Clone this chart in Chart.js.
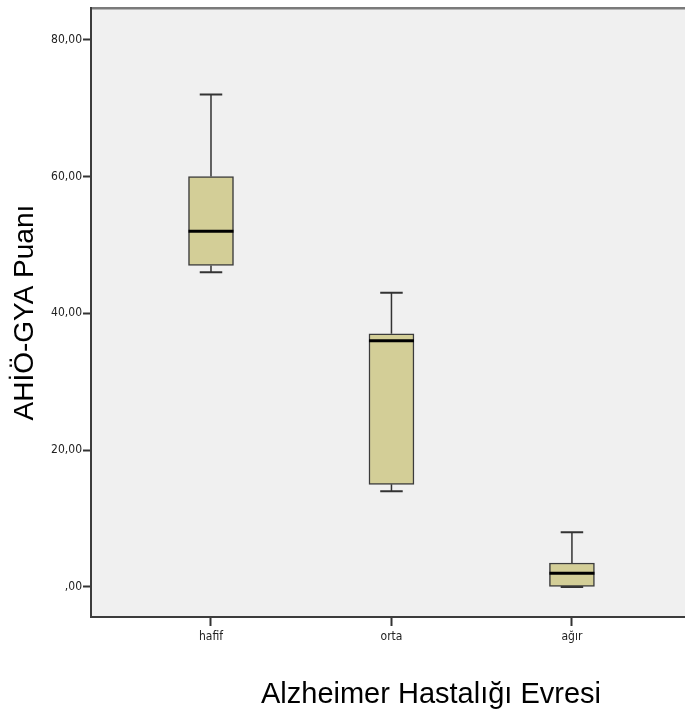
<!DOCTYPE html>
<html>
<head>
<meta charset="utf-8">
<script src="https://cdn.jsdelivr.net/npm/chart.js@4/dist/chart.umd.min.js"></script>
<style>
  html, body { margin: 0; padding: 0; overflow: hidden; background: #fff; }
  canvas { display: block; }
</style>
</head>
<body>
<canvas id="myChart" width="780" height="718"></canvas>
<script>
// Datos del diagrama de caja
const categories = ["hafif", "orta", "ağır"];
const xPositions = [1, 2, 3];
const whiskerMin = [46, 14, 0];
const q1 = [47, 15, 0];
const median = [52, 36, 2];
const q3 = [60, 37, 3.5];
const whiskerMax = [72, 43, 8];
const yTickValues = [0, 20, 40, 60, 80];
const yTickLabels = [",00", "20,00", "40,00", "60,00", "80,00"];

const tickFont = { family: "'DejaVu Sans Condensed', 'Liberation Sans', sans-serif", size: 12 };
const titleFont = { family: "'Liberation Sans', Arial, sans-serif", lineHeight: 1.2 };

// Fondo gris del area y borde superior
const plotBackground = {
  id: "plotBackground",
  beforeDraw(chart) {
    const { ctx, chartArea: a } = chart;
    ctx.save();
    ctx.fillStyle = "#f0f0f0";
    ctx.fillRect(a.left, a.top, a.right - a.left, a.bottom - a.top);
    ctx.strokeStyle = "#7a7a7a";
    ctx.lineWidth = 2.5;
    ctx.beginPath();
    ctx.moveTo(a.left, a.top);
    ctx.lineTo(a.right, a.top);
    ctx.stroke();
    ctx.restore();
  },
};

// Bigotes (antes de las cajas) y medianas (despues)
const boxParts = {
  id: "boxParts",
  beforeDatasetsDraw(chart) {
    const { ctx } = chart;
    const y = chart.scales.y;
    const bars = chart.getDatasetMeta(0).data;
    ctx.save();
    ctx.strokeStyle = "#333";
    bars.forEach((bar, i) => {
      const cap = bar.width / 4;
      const yMax = y.getPixelForValue(whiskerMax[i]);
      const yMin = y.getPixelForValue(whiskerMin[i]);
      ctx.lineWidth = 1.5;
      ctx.beginPath();
      ctx.moveTo(bar.x, yMax);
      ctx.lineTo(bar.x, y.getPixelForValue(q3[i]));
      ctx.moveTo(bar.x, yMin);
      ctx.lineTo(bar.x, y.getPixelForValue(q1[i]));
      ctx.stroke();
      ctx.lineWidth = 2;
      ctx.beginPath();
      ctx.moveTo(bar.x - cap, yMax);
      ctx.lineTo(bar.x + cap, yMax);
      ctx.moveTo(bar.x - cap, yMin);
      ctx.lineTo(bar.x + cap, yMin);
      ctx.stroke();
    });
    ctx.restore();
  },
  afterDatasetsDraw(chart) {
    const { ctx } = chart;
    const y = chart.scales.y;
    const bars = chart.getDatasetMeta(0).data;
    ctx.save();
    ctx.strokeStyle = "#000";
    ctx.lineWidth = 3;
    bars.forEach((bar, i) => {
      const ym = y.getPixelForValue(median[i]);
      ctx.beginPath();
      ctx.moveTo(bar.x - bar.width / 2, ym);
      ctx.lineTo(bar.x + bar.width / 2, ym);
      ctx.stroke();
    });
    ctx.restore();
  },
};

const ctx = document.getElementById("myChart").getContext("2d");
new Chart(ctx, {
  type: "bar",
  data: {
    datasets: [
      {
        data: xPositions.map((x, i) => ({ x: x, y: [q1[i], q3[i]] })),
        backgroundColor: "#d3ce97",
        borderColor: "#3c3c3c",
        borderWidth: 1.5,
        borderSkipped: false,
        barThickness: 45,
      },
    ],
  },
  options: {
    responsive: false,
    animation: false,
    layout: { padding: { top: 6, right: 9, left: 0, bottom: 0 } },
    plugins: { legend: { display: false }, tooltip: { enabled: false } },
    scales: {
      x: {
        type: "linear",
        offset: false,
        min: 0.3351,
        max: 4.103,
        afterBuildTicks: (scale) => {
          scale.ticks = xPositions.map((v) => ({ value: v }));
        },
        afterFit: (scale) => {
          scale.height = 101;
        },
        ticks: {
          autoSkip: false,
          maxRotation: 0,
          padding: 4,
          color: "#222",
          font: tickFont,
          callback: (value) => categories[xPositions.indexOf(value)],
        },
        grid: {
          display: true,
          offset: false,
          drawOnChartArea: false,
          drawTicks: true,
          tickLength: 9,
          tickWidth: 2,
          tickColor: "#333",
        },
        border: { display: true, color: "#3c3c3c", width: 2 },
        title: {
          display: true,
          text: "Alzheimer Hastalığı Evresi",
          color: "#000",
          font: { ...titleFont, size: 29 },
          padding: { top: 0, bottom: 6 },
        },
      },
      y: {
        min: -4.4,
        max: 84.6,
        afterBuildTicks: (scale) => {
          scale.ticks = yTickValues.map((v) => ({ value: v }));
        },
        afterFit: (scale) => {
          scale.width = 91;
        },
        ticks: {
          padding: 1,
          color: "#222",
          font: tickFont,
          callback: (value) => yTickLabels[yTickValues.indexOf(value)],
        },
        grid: {
          display: true,
          drawOnChartArea: false,
          drawTicks: true,
          tickLength: 8,
          tickWidth: 2,
          tickColor: "#333",
        },
        border: { display: true, color: "#3c3c3c", width: 2 },
        title: {
          display: true,
          text: "AHİÖ-GYA Puanı",
          color: "#000",
          font: { ...titleFont, size: 28 },
          padding: { top: 8, bottom: 0 },
        },
      },
    },
  },
  plugins: [plotBackground, boxParts],
});
</script>
</body>
</html>
